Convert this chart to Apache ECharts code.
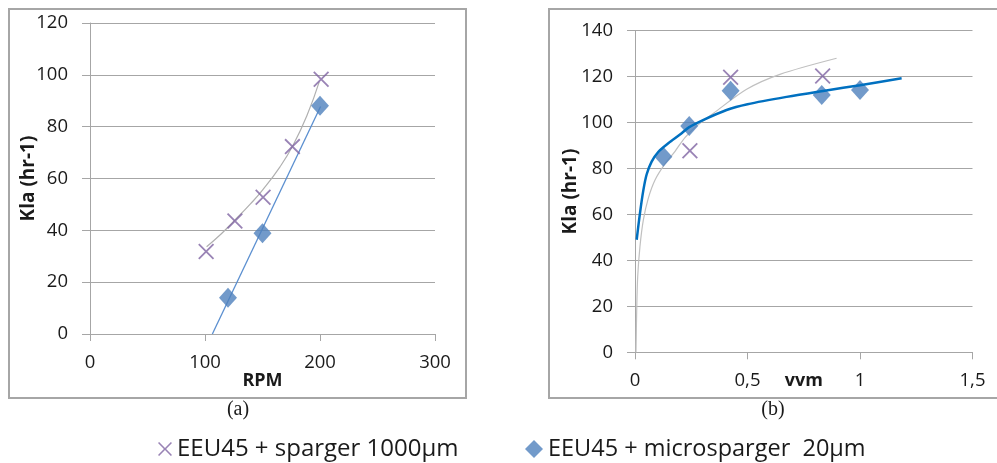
<!DOCTYPE html>
<html><head><meta charset="utf-8">
<script src="https://cdn.jsdelivr.net/npm/echarts@6/dist/echarts.min.js"></script>
<style>html,body{margin:0;padding:0;background:#fff}#c{width:997px;height:463px}</style>
</head><body><div id="c"></div>
<script>
// ---- names ----
const nameSparger = 'EEU45 + sparger 1000µm';
const nameMicro = 'EEU45 + microsparger  20µm';
// ---- chart (a): Kla vs RPM ----
const rpmSparger = [101, 126, 150.5, 176, 201];
const klaSpargerA = [31.8, 43.6, 52.8, 72.3, 98.3];
const rpmMicro = [120, 150, 200];
const klaMicroA = [14, 38.9, 88.1];
const trendSpargerA_x = [101.4, 114, 126.1, 139.1, 150, 165.2, 176.8, 188.4, 199.4];
const trendSpargerA_y = [33.7, 38.6, 44.0, 50.0, 55.5, 64.5, 73.0, 84.0, 97.4];
const trendMicroA_x = [106.4, 200.5];
const trendMicroA_y = [0, 87.8];
const ticksA_x = [0, 100, 200, 300];
const ticksA_y = [0, 20, 40, 60, 80, 100, 120];
// ---- chart (b): Kla vs vvm ----
const vvmSparger = [0.244, 0.425, 0.834];
const klaSpargerB = [87.7, 119.7, 120.3];
const vvmMicro = [0.126, 0.241, 0.425, 0.83, 1.0];
const klaMicroB = [85.1, 98.5, 113.9, 112, 114.2];
const trendSpargerB_x = [0.0044, 0.0075, 0.012, 0.022, 0.037, 0.059, 0.089, 0.133, 0.178, 0.222, 0.274, 0.348, 0.496, 0.644, 0.896];
const trendSpargerB_y = [0, 18, 33, 46, 57.5, 67, 75, 82, 87.5, 93.5, 98.5, 104, 114.5, 121, 128];
const trendMicroB_x = [0.0075, 0.022, 0.037, 0.052, 0.074, 0.104, 0.148, 0.2, 0.241, 0.3, 0.407, 0.5, 0.674, 0.85, 1.0, 1.185];
const trendMicroB_y = [49, 60.5, 70.5, 77.5, 83, 87.3, 91, 94.8, 98, 101, 105.5, 108, 111.2, 114, 116.3, 119.3];
const ticksB_x = ['0', '0,5', '1', '1,5'];
const ticksB_y = [0, 20, 40, 60, 80, 100, 120, 140];

const pair = (xs, ys) => xs.map((x, i) => [x, ys[i]]);
const XPATH = 'path://M0,1.6 L1.6,0 L10,8.4 L18.4,0 L20,1.6 L11.6,10 L20,18.4 L18.4,20 L10,11.6 L1.6,20 L0,18.4 L8.4,10 Z';
const purple = '#8064a2', blue = '#4f81bd';
const gridC = '#a6a6a6', txt = '#1a1a1a';
const FONT = 'Open Sans';

function xAxisCfg(idx, min, max, interval, name, nameGap, fmt) {
  return {
    gridIndex: idx, type: 'value', min: min, max: max, interval: interval,
    name: name, nameLocation: 'middle', nameGap: nameGap, nameMoveOverlap: false,
    nameTextStyle: {fontFamily: FONT, fontWeight: 'bold', fontSize: 18, color: txt},
    axisLine: {show: true, lineStyle: {color: gridC, width: 1}},
    axisTick: {show: true, length: 7, inside: false, lineStyle: {color: gridC}},
    axisLabel: {fontFamily: FONT, fontSize: 18.5, color: txt, margin: 19, formatter: fmt},
    splitLine: {show: false}
  };
}
function yAxisCfg(idx, min, max, interval, nameGap) {
  return {
    gridIndex: idx, type: 'value', min: min, max: max, interval: interval,
    name: 'Kla (hr-1)', nameLocation: 'middle', nameGap: nameGap, nameMoveOverlap: false,
    nameTextStyle: {fontFamily: FONT, fontWeight: 'bold', fontSize: 19, color: txt},
    axisLine: {show: true, lineStyle: {color: gridC, width: 1}},
    axisTick: {show: true, length: 8, inside: false, lineStyle: {color: gridC}},
    axisLabel: {fontFamily: FONT, fontSize: 18.5, color: txt, margin: 22},
    splitLine: {show: true, lineStyle: {color: gridC, width: 1}}
  };
}

const chart = echarts.init(document.getElementById('c'), null, {renderer: 'canvas'});
chart.setOption({
  animation: false,
  backgroundColor: '#fff',
  grid: [
    {left: 90, top: 23, width: 345, height: 311, outerBoundsMode: 'none', containLabel: false},
    {left: 635, top: 30.7, width: 337.5, height: 321.6, outerBoundsMode: 'none', containLabel: false}
  ],
  xAxis: [
    xAxisCfg(0, ticksA_x[0], ticksA_x[ticksA_x.length - 1], 100, 'RPM', 37.5, null),
    xAxisCfg(1, 0, 1.5, 0.5, 'vvm', 20, function (v) { return ticksB_x[Math.round(v / 0.5)]; })
  ],
  yAxis: [
    yAxisCfg(0, ticksA_y[0], ticksA_y[ticksA_y.length - 1], 20, 52),
    yAxisCfg(1, ticksB_y[0], ticksB_y[ticksB_y.length - 1], 20, 55)
  ],
  legend: [
    {left: 153, top: 432, itemWidth: 14, itemHeight: 14, itemGap: 10,
     data: [{name: nameSparger, icon: XPATH, itemStyle: {color: purple}}],
     textStyle: {fontFamily: FONT, fontSize: 24, color: txt}},
    {left: 520, top: 432, itemWidth: 18, itemHeight: 18, itemGap: 10,
     data: [{name: nameMicro, icon: 'diamond', itemStyle: {color: blue}}],
     textStyle: {fontFamily: FONT, fontSize: 23.5, color: txt}}
  ],
  graphic: [
    {type: 'rect', shape: {x: 9, y: 9, width: 457, height: 389}, style: {fill: 'none', stroke: gridC, lineWidth: 2}, silent: true},
    {type: 'rect', shape: {x: 549, y: 9, width: 460, height: 389}, style: {fill: 'none', stroke: gridC, lineWidth: 2}, silent: true},
    {type: 'text', x: 238, y: 410, style: {text: '(a)', font: '20px "Liberation Serif"', fill: txt, align: 'center', verticalAlign: 'middle'}},
    {type: 'text', x: 773, y: 410, style: {text: '(b)', font: '20px "Liberation Serif"', fill: txt, align: 'center', verticalAlign: 'middle'}}
  ],
  series: [
    {type: 'line', xAxisIndex: 0, yAxisIndex: 0, data: pair(trendSpargerA_x, trendSpargerA_y), smooth: 0.5, showSymbol: false, silent: true,
     lineStyle: {color: '#b0b0b0', width: 1.2}, z: 1},
    {type: 'line', xAxisIndex: 0, yAxisIndex: 0, data: pair(trendMicroA_x, trendMicroA_y), showSymbol: false, silent: true,
     lineStyle: {color: '#5b8fd0', width: 1.3}, z: 1},
    {name: nameSparger, type: 'scatter', xAxisIndex: 0, yAxisIndex: 0, data: pair(rpmSparger, klaSpargerA), symbol: XPATH, symbolSize: 16,
     itemStyle: {color: purple}, z: 3},
    {name: nameMicro, type: 'scatter', xAxisIndex: 0, yAxisIndex: 0, data: pair(rpmMicro, klaMicroA), symbol: 'diamond', symbolSize: [18, 20],
     itemStyle: {color: blue}, z: 3},

    {type: 'line', xAxisIndex: 1, yAxisIndex: 1, data: pair(trendSpargerB_x, trendSpargerB_y), smooth: 0.3, showSymbol: false, silent: true,
     lineStyle: {color: '#c0c0c0', width: 1.2}, z: 1},
    {name: nameSparger, type: 'scatter', xAxisIndex: 1, yAxisIndex: 1, data: pair(vvmSparger, klaSpargerB), symbol: XPATH, symbolSize: 16,
     itemStyle: {color: purple}, z: 3},
    {name: nameMicro, type: 'scatter', xAxisIndex: 1, yAxisIndex: 1, data: pair(vvmMicro, klaMicroB), symbol: 'diamond', symbolSize: [18, 20],
     itemStyle: {color: blue}, z: 3},
    {type: 'line', xAxisIndex: 1, yAxisIndex: 1, data: pair(trendMicroB_x, trendMicroB_y), smooth: 0.3, showSymbol: false, silent: true,
     lineStyle: {color: '#0070c0', width: 2.5}, z: 4}
  ]
});
</script></body></html>
